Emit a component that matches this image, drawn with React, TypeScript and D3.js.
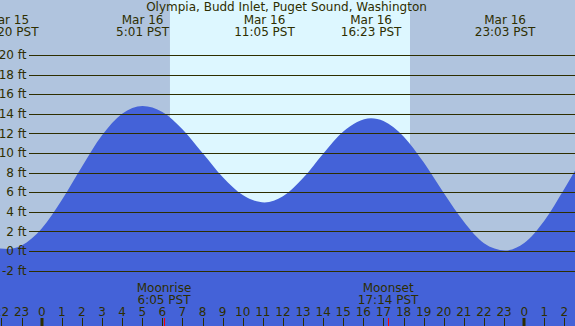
import React from 'react';
import * as d3 from 'd3';

const W = 575;
const H = 326;

// hours relative to Mar 16 00:00 PST, heights in ft
const tideHours = [-2.1, -1.67, -1, 0, 1, 2, 3, 4, 5.017, 6, 7, 8, 9, 10, 11.083, 12, 13, 14, 15, 16.383, 17, 18, 19, 20, 21, 22, 23.05, 24, 25, 26, 27];
const tideFeet = [0.25, 0.2, 0.56, 2.3, 5.2, 8.6, 11.8, 14.0, 14.8, 14.18, 12.43, 10.0, 7.55, 5.7, 4.95, 5.57, 7.44, 9.93, 12.19, 13.55, 13.27, 11.69, 9.04, 5.9, 2.97, 0.78, 0.05, 0.81, 3.09, 6.35, 9.85];

const eventHours = [-1.667, 5.017, 11.083, 16.383, 23.05];
const eventDays = ['Mar 15', 'Mar 16', 'Mar 16', 'Mar 16', 'Mar 16'];
const eventTimes = ['22:20 PST', '5:01 PST', '11:05 PST', '16:23 PST', '23:03 PST'];

const sunrise = 6.38;
const sunset = 18.32;

const moonHours = [6.083, 17.233];
const moonNames = ['Moonrise', 'Moonset'];
const moonTimes = ['6:05 PST', '17:14 PST'];

const feetTicks = [-2, 0, 2, 4, 6, 8, 10, 12, 14, 16, 18, 20];

const title = 'Olympia, Budd Inlet, Puget Sound, Washington';

const textColor = '#2e2e00';
const nightColor = '#b0c4de';
const dayColor = '#ddf7ff';
const waterColor = '#4462d8';

const App: React.FC = () => {
  const x = d3.scaleLinear().domain([0, 24]).range([41.7, 524.2]);
  const y = d3.scaleLinear().domain([-2, 20]).range([270.5, 55]);

  const pts = tideHours.map((h, i) => [h, tideFeet[i]] as [number, number]);
  const area = d3.area<[number, number]>()
    .x(d => x(d[0]))
    .y0(H)
    .y1(d => y(d[1]))
    .curve(d3.curveMonotoneX);

  const [h0, h1] = x.invert(0) > -3 ? [Math.ceil(x.invert(0)), Math.floor(x.invert(W))] : [-2, 26];
  const hours = d3.range(h0, h1 + 1);

  const font = 'DejaVu Sans, sans-serif';

  return (
    <div>
      <style>{'body{margin:0}'}</style>
      <svg width={W} height={H} style={{ display: 'block' }} fontFamily={font} fontSize={12}>
        <rect x={0} y={0} width={W} height={H} fill={nightColor} />
        <rect x={x(sunrise)} y={0} width={x(sunset) - x(sunrise)} height={H} fill={dayColor} />
        <path d={area(pts) ?? ''} fill={waterColor} />

        {feetTicks.map(f => (
          <g key={f}>
            <line x1={29} x2={W} y1={Math.round(y(f)) + 0.5} y2={Math.round(y(f)) + 0.5} stroke={textColor} strokeWidth={1} />
            <text x={26.5} y={y(f)} dy="0.35em" textAnchor="end" fill={textColor}>{`${f} ft`}</text>
          </g>
        ))}

        <text x={286.5} y={11} textAnchor="middle" fill={textColor}>{title}</text>
        {eventHours.map((h, i) => (
          <g key={i} transform={`translate(${x(h)},0)`} textAnchor="middle" fill={textColor}>
            <text y={24}>{eventDays[i]}</text>
            <text y={36}>{eventTimes[i]}</text>
          </g>
        ))}

        {hours.map(h => {
          const xh = x(h);
          const midnight = ((h % 24) + 24) % 24 === 0;
          return (
            <g key={h}>
              <text x={xh} y={316} textAnchor="middle" fill={textColor}>{((h % 24) + 24) % 24}</text>
              {midnight
                ? <rect x={Math.round(xh) - 1.5} y={318} width={3} height={8} fill={textColor} />
                : <line x1={Math.round(xh) + 0.5} x2={Math.round(xh) + 0.5} y1={318} y2={H} stroke={textColor} />}
            </g>
          );
        })}

        {moonHours.map((h, i) => (
          <g key={i}>
            <line x1={Math.round(x(h)) + 0.5} x2={Math.round(x(h)) + 0.5} y1={318} y2={H} stroke="#ff0000" />
            <text x={x(h)} y={291.5} textAnchor="middle" fill={textColor}>{moonNames[i]}</text>
            <text x={x(h)} y={303.5} textAnchor="middle" fill={textColor}>{moonTimes[i]}</text>
          </g>
        ))}
      </svg>
    </div>
  );
};

export default App;
